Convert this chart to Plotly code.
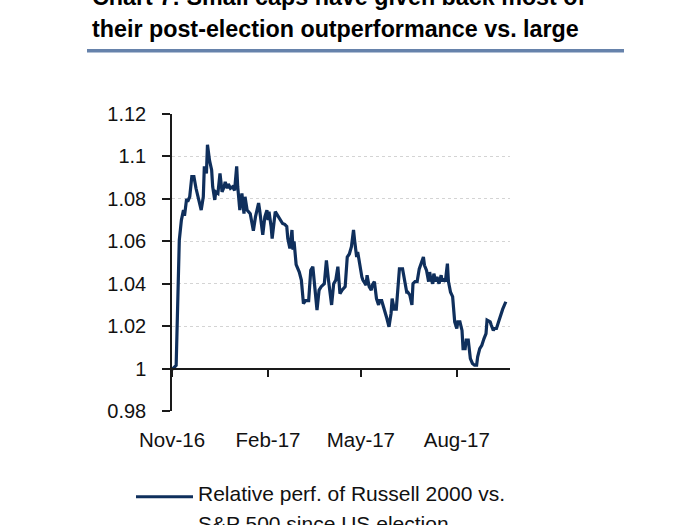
import pandas as pd
import plotly.graph_objects as go

# ---- data ----
election_date = "2016-11-08"
days_since_election = [
    0, 1, 4, 7, 9, 11, 12, 14, 15, 17, 19, 21, 23, 26, 28, 30, 31, 33, 34, 36,
    38, 39, 41, 42, 44, 46, 48, 50, 51, 53, 54, 56, 58, 60, 62, 63, 64, 65, 67, 69,
    70, 72, 75, 78, 80, 83, 84, 86, 87, 89, 91, 92, 93, 95, 96, 99, 101, 103, 106, 108,
    110, 111, 113, 115, 116, 117, 118, 119, 122, 124, 126, 128, 131, 133, 135, 137, 139, 141, 143, 146,
    148, 150, 153, 155, 157, 159, 161, 163, 166, 168, 170, 172, 174, 175, 177, 178, 180, 182, 183, 186,
    187, 189, 191, 192, 194, 196, 198, 199, 201, 204, 206, 208, 210, 211, 213, 215, 217, 218, 221, 223,
    225, 226, 228, 230, 231, 233, 235, 237, 239, 241, 242, 244, 246, 247, 248, 250, 251, 253, 254, 256,
    258, 259, 260, 262, 264, 265, 267, 269, 271, 273, 274, 276, 278, 279, 281, 282, 284, 285, 286, 288,
    290, 292, 293, 295, 297, 299, 301, 302, 305, 306, 308, 309, 311, 313, 314, 316, 317, 320,
]
relative_perf = [
    1.000, 1.000, 1.0015, 1.0606, 1.070, 1.0747, 1.072, 1.080, 1.0787, 1.081, 1.0905, 1.0905, 1.085, 1.0794, 1.0747, 1.081, 1.0953, 1.092, 1.1055, 1.098,
    1.0936, 1.0857, 1.0795, 1.0833, 1.0826, 1.092, 1.0833, 1.0857, 1.088, 1.085, 1.087, 1.085, 1.0857, 1.084, 1.0953, 1.0857, 1.077, 1.0747, 1.0826, 1.073,
    1.081, 1.0747, 1.073, 1.065, 1.0715, 1.078, 1.0747, 1.0684, 1.063, 1.0715, 1.0747, 1.070, 1.0739, 1.067, 1.0613, 1.074, 1.0724, 1.0708, 1.0684, 1.068,
    1.067, 1.0613, 1.0566, 1.0653, 1.056, 1.060, 1.0518, 1.049, 1.0455, 1.0417, 1.0306, 1.032, 1.032, 1.0463, 1.048, 1.037, 1.0276, 1.037, 1.0386, 1.040,
    1.051, 1.0417, 1.030, 1.040, 1.0417, 1.048, 1.0353, 1.037, 1.0386, 1.0526, 1.054, 1.0574, 1.0653, 1.0606, 1.0526, 1.055, 1.048, 1.0432, 1.0417, 1.0393,
    1.044, 1.0386, 1.037, 1.0393, 1.041, 1.033, 1.030, 1.032, 1.032, 1.0276, 1.0236, 1.0197, 1.026, 1.033, 1.028, 1.028, 1.0417, 1.047, 1.047, 1.0417,
    1.036, 1.036, 1.0346, 1.030, 1.040, 1.041, 1.041, 1.047, 1.0495, 1.0526, 1.0487, 1.0463, 1.041, 1.0455, 1.0424, 1.040, 1.0447, 1.041, 1.0432, 1.040,
    1.044, 1.041, 1.0424, 1.041, 1.0495, 1.041, 1.036, 1.0339, 1.022, 1.0189, 1.022, 1.022, 1.018, 1.0094, 1.0094, 1.0134, 1.0134, 1.0079, 1.0047, 1.0024,
    1.0016, 1.0016, 1.0055, 1.0094, 1.011, 1.014, 1.0165, 1.0228, 1.022, 1.0205, 1.018, 1.0189, 1.0189, 1.022, 1.0236, 1.0267, 1.028, 1.0315,
]
x_tick_dates = ["2016-11-08", "2017-02-08", "2017-05-08", "2017-08-08"]
x_tick_labels = ["Nov-16", "Feb-17", "May-17", "Aug-17"]
y_tick_values = [0.98, 1.00, 1.02, 1.04, 1.06, 1.08, 1.10, 1.12]
y_tick_labels = ["0.98", "1", "1.02", "1.04", "1.06", "1.08", "1.1", "1.12"]
title_lines = ["Chart 7: Small caps have given back most of",
               "their post-election outperformance vs. large"]
legend_lines = ["Relative perf. of Russell 2000 vs.", "S&amp;P 500 since US election"]

start = pd.Timestamp(election_date)
dates = [(start + pd.Timedelta(days=d)).strftime("%Y-%m-%d") for d in days_since_election]
x_range = [start.strftime("%Y-%m-%d"), (start + pd.Timedelta(days=324)).strftime("%Y-%m-%d")]

# ---- layout geometry (pixels) ----
W, H = 700, 525
L, R, T, B = 172, 190, 114, 114
PW, PH = W - L - R, H - T - B


def xp(px):
    return (px - L) / PW


def yp(py):
    return (H - B - py) / PH


LINE_COLOR = "#0f2f5c"
FONT = "Liberation Sans, Arial, sans-serif"

fig = go.Figure()
# invisible trace for the bottom (label) axis
fig.add_trace(go.Scatter(x=dates, y=relative_perf, mode="lines", line=dict(width=0),
                         hoverinfo="skip", showlegend=False, xaxis="x", yaxis="y"))
# the actual series on the axis crossing at 1.0
fig.add_trace(go.Scatter(x=dates, y=relative_perf, mode="lines",
                         line=dict(color=LINE_COLOR, width=3.2),
                         name="Relative perf. of Russell 2000 vs. S&P 500 since US election",
                         showlegend=False, xaxis="x2", yaxis="y"))

fig.update_layout(
    width=W, height=H,
    margin=dict(l=L, r=R, t=T, b=B, autoexpand=False),
    paper_bgcolor="white", plot_bgcolor="white",
    font=dict(family=FONT, color="#111111", size=20),
    xaxis=dict(type="date", range=x_range, tickmode="array", tickvals=x_tick_dates,
               ticktext=x_tick_labels, showline=False, ticks="", showgrid=False,
               zeroline=False, tickfont=dict(size=20.5), ticklabelstandoff=14),
    xaxis2=dict(type="date", range=x_range, overlaying="x", anchor="free",
                position=(1.00 - 0.98) / (1.12 - 0.98), side="bottom",
                tickmode="array", tickvals=x_tick_dates, showticklabels=False,
                showline=True, linecolor="#1a1a1a", linewidth=1.5,
                ticks="outside", ticklen=8, tickwidth=1.5, tickcolor="#1a1a1a",
                showgrid=False, zeroline=False),
    yaxis=dict(range=[0.98, 1.12], tickmode="array", tickvals=y_tick_values,
               ticktext=y_tick_labels, showline=True, linecolor="#1a1a1a", linewidth=1.5,
               ticks="outside", ticklen=8, tickwidth=1.5, tickcolor="#1a1a1a",
               showgrid=True, gridcolor="#d4d4d4", griddash="dot", gridwidth=1,
               zeroline=False, tickfont=dict(size=20), ticklabelstandoff=12),
    showlegend=False,
)

# title (first line partly outside the canvas, as in the reference)
fig.add_annotation(text=f"<b>{title_lines[0]}</b>", xref="paper", yref="paper",
                   x=xp(90), y=yp(-3), xanchor="left", yanchor="middle",
                   showarrow=False, font=dict(size=23.3, color="#000000"))
fig.add_annotation(text=f"<b>{title_lines[1]}</b>", xref="paper", yref="paper",
                   x=xp(90), y=yp(29), xanchor="left", yanchor="middle",
                   showarrow=False, font=dict(size=23.3, color="#000000"))
fig.add_shape(type="line", xref="paper", yref="paper", x0=xp(87), x1=xp(624),
              y0=yp(50.7), y1=yp(50.7), line=dict(color="#6682ab", width=3.5))

# legend (sample line + two-line label)
fig.add_shape(type="line", xref="paper", yref="paper", x0=xp(136), x1=xp(193),
              y0=yp(496.7), y1=yp(496.7), line=dict(color=LINE_COLOR, width=3))
fig.add_annotation(text=legend_lines[0], xref="paper", yref="paper",
                   x=xp(196), y=yp(493), xanchor="left", yanchor="middle",
                   showarrow=False, font=dict(size=21, color="#111111"))
fig.add_annotation(text=legend_lines[1], xref="paper", yref="paper",
                   x=xp(196), y=yp(523), xanchor="left", yanchor="middle",
                   showarrow=False, font=dict(size=21, color="#111111"))

fig.write_html("out.html", config={"displayModeBar": False},
               post_script="document.body.style.margin='0';")
